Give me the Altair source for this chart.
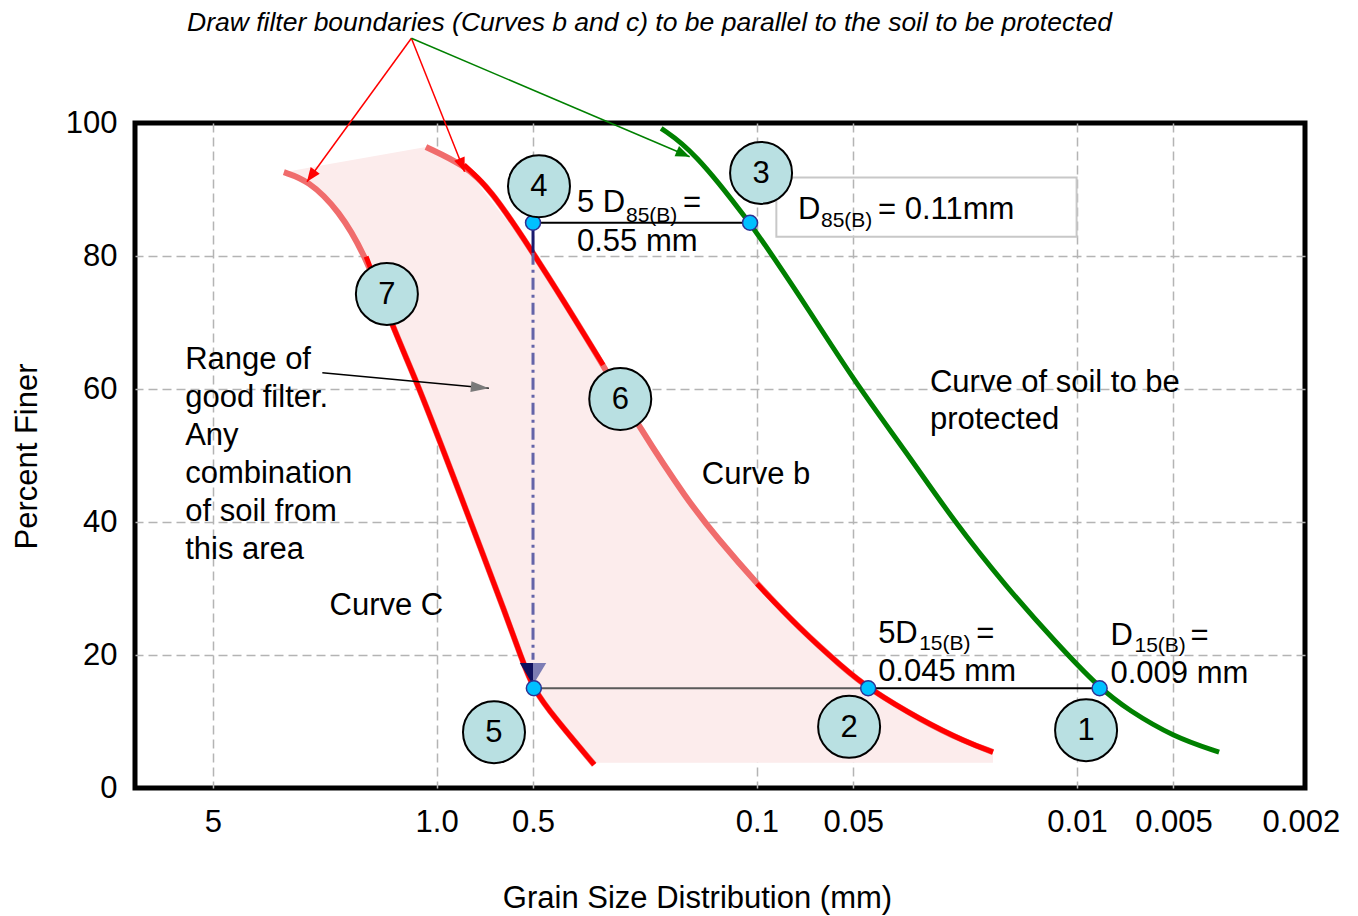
import altair as alt
import pandas as pd

FONT = "Liberation Sans"
RED = "#ff0000"
LIGHT_RED = "#f06c6c"
GREEN = "#008000"

# ---------------- data ----------------
# soil to be protected (green)
soil_size = [0.199, 0.158, 0.105, 0.0890, 0.0697, 0.0487, 0.0340, 0.0244, 0.0166,
             0.0116, 0.0085, 0.0069, 0.0050, 0.0036]
soil_pct = [99.2, 95.9, 85.0, 79.9, 72.3, 60.6, 50.4, 40.3, 30.2,
            21.8, 15.0, 11.7, 7.7, 5.4]

# curve b (fine filter boundary)
b_size = [1.080, 0.821, 0.681, 0.500, 0.403, 0.302, 0.232, 0.165, 0.133,
          0.0999, 0.0733, 0.0538, 0.0449, 0.0307, 0.0222, 0.0183]
b_pct = [96.4, 93.7, 90.2, 80.5, 73.4, 63.6, 54.1, 43.3, 37.6,
         30.7, 23.9, 18.1, 15.0, 10.2, 6.9, 5.4]

# curve C (coarse filter boundary)
c_size = [3.00, 2.52, 2.02, 1.66, 1.37, 1.15, 0.962, 0.711, 0.616,
          0.545, 0.497, 0.430, 0.322]
c_pct = [92.6, 91.4, 86.9, 79.9, 69.3, 60.9, 51.3, 34.7, 26.8,
         19.7, 14.7, 10.7, 3.5]

# shaded range of good filter
band_pct = [96.4, 93.7, 92.6, 90, 85, 80, 70, 60, 50, 40, 30, 20, 15, 10, 5.4, 3.8]
band_coarse = [1.080, 2.25, 3.00, 2.35, 1.91, 1.66, 1.385, 1.13, 0.942, 0.783,
               0.653, 0.547, 0.496, 0.418, 0.349, 0.327]
band_fine = [1.080, 0.821, 0.790, 0.720, 0.596, 0.493, 0.365, 0.273, 0.2035, 0.146,
             0.0968, 0.0596, 0.0449, 0.0305, 0.0183, 0.0183]

# key points (D15, 5D15, D85, 5D85, curve C at 15 %)
key_size = [0.0085, 0.0449, 0.105, 0.500, 0.497]
key_pct = [15, 15, 85, 85, 15]

# numbered badges
badge_label = ["1", "2", "3", "4", "5", "6", "7"]
badge_size = [0.00937, 0.0515, 0.0970, 0.479, 0.662, 0.267, 1.43]
badge_pct = [8.7, 9.2, 92.5, 90.5, 8.4, 58.5, 74.3]

x_ticks = [5, 1, 0.5, 0.1, 0.05, 0.01, 0.005, 0.002]
y_ticks = [0, 20, 40, 60, 80, 100]

# ---------------- scales / axes ----------------
xs = alt.Scale(type="log", domain=[0.001941, 8.75], reverse=True, nice=False)
ys = alt.Scale(domain=[0, 100], nice=False, zero=False)

common_axis = dict(
    grid=True, gridColor="#b4b4b4", gridDash=[9, 5], gridWidth=1.5,
    domain=False, ticks=False, tickSize=0,
    labelFont=FONT, labelFontSize=31, labelColor="black",
    titleFont=FONT, titleFontSize=31, titleFontWeight="normal", titleColor="black",
)
x_axis = alt.Axis(
    values=x_ticks,
    labelExpr="datum.value == 1 ? '1.0' : '' + datum.value",
    title="Grain Size Distribution (mm)",
    gridOpacity={"condition": {"test": "datum.value < 0.0025", "value": 0}, "value": 1},
    labelPadding=19, labelFlush=False, labelOverlap=False,
    titleX=562, titleY=119, titleBaseline="alphabetic", titleAlign="center",
    **common_axis,
)
y_axis = alt.Axis(
    values=y_ticks,
    title="Percent Finer",
    gridOpacity={"condition": {"test": "datum.value == 0 || datum.value == 100", "value": 0}, "value": 1},
    labelPadding=18, labelFlush=False, labelOverlap=False,
    titleAngle=270, titleX=-99, titleY=333, titleBaseline="alphabetic", titleAlign="center",
    **common_axis,
)

X = alt.X("d:Q", scale=xs, axis=x_axis)
Y = alt.Y("pct:Q", scale=ys, axis=y_axis)
ORDER = alt.Order("pct:Q", sort="descending")

layers = []

# shaded band
band_df = pd.DataFrame({"d": band_coarse, "d2": band_fine, "pct": band_pct})
layers.append(
    alt.Chart(band_df).mark_area(color="#fcecec", opacity=1, orient="horizontal")
    .encode(x=X, x2=alt.X2("d2:Q"), y=Y)
)

b_df = pd.DataFrame({"d": b_size, "pct": b_pct})
c_df = pd.DataFrame({"d": c_size, "pct": c_pct})
g_df = pd.DataFrame({"d": soil_size, "pct": soil_pct})

def curve(df, color, width, flt=None):
    ch = alt.Chart(df)
    if flt:
        ch = ch.transform_filter(flt)
    return ch.mark_line(color=color, strokeWidth=width, interpolate="basis").encode(
        x=X, y=Y, order=ORDER)

layers += [
    curve(c_df, LIGHT_RED, 6),
    curve(c_df, RED, 5, "datum.pct <= 79.95"),
    curve(b_df, LIGHT_RED, 6),
    curve(b_df, RED, 5, "datum.pct >= 63.5 && datum.pct <= 93.75"),
    curve(b_df, RED, 5, "datum.pct <= 30.8"),
    curve(g_df, GREEN, 5),
]

# horizontal guide lines
def hrule(d1, d2, p, color, width):
    df = pd.DataFrame({"d": [d1], "d2": [d2], "pct": [p]})
    return alt.Chart(df).mark_rule(color=color, strokeWidth=width).encode(
        x=X, x2=alt.X2("d2:Q"), y=Y)

layers += [
    hrule(key_size[3], key_size[2], 85, "black", 2),
    hrule(key_size[4], key_size[1], 15, "#5a5a5a", 2),
    hrule(key_size[1], key_size[0], 15, "black", 2),
]

# vertical projection line at 0.5 mm
def vrule(d, p1, p2, color, width, dash=None):
    df = pd.DataFrame({"d": [d], "pct": [p1], "pct2": [p2]})
    kw = dict(color=color, strokeWidth=width)
    if dash:
        kw["strokeDash"] = dash
    return alt.Chart(df).mark_rule(**kw).encode(x=X, y=Y, y2=alt.Y2("pct2:Q"))

layers += [
    vrule(0.5, 80.5, 19.3, "#6464a8", 3, [12, 5, 3, 5]),
    vrule(0.5, 85, 80.5, "#1a1a6e", 3),
]

tip_df = pd.DataFrame({"d": [0.5], "pct": [15.5]})
layers += [
    alt.Chart(tip_df).mark_point(shape="M0,0L-0.6,-1L0,-1Z", size=1936, filled=True,
                                 color="#10105e", opacity=1, strokeWidth=0).encode(x=X, y=Y),
    alt.Chart(tip_df).mark_point(shape="M0,0L0,-1L0.6,-1Z", size=1936, filled=True,
                                 color="#7c7cb4", opacity=1, strokeWidth=0).encode(x=X, y=Y),
]

# box around D85 label
box_df = pd.DataFrame({"d": [0.0869], "d2": [0.01003], "pct": [91.8], "pct2": [82.9]})
layers.append(
    alt.Chart(box_df).mark_rect(fillOpacity=0, stroke="#c8c8c8", strokeWidth=2)
    .encode(x=X, x2=alt.X2("d2:Q"), y=Y, y2=alt.Y2("pct2:Q"))
)

# key points
key_df = pd.DataFrame({"d": key_size, "pct": key_pct})
layers.append(
    alt.Chart(key_df).mark_point(shape="circle", size=225, filled=True, fill="#00c0ff",
                                 stroke="#2e3192", strokeWidth=1.5, opacity=1)
    .encode(x=X, y=Y)
)

# numbered badges
badge_df = pd.DataFrame({"d": badge_size, "pct": badge_pct, "label": badge_label})
layers += [
    alt.Chart(badge_df).mark_point(shape="circle", size=3844, filled=True, fill="#b9e0e2",
                                   stroke="black", strokeWidth=2, opacity=1)
    .encode(x=X, y=Y),
    alt.Chart(badge_df).mark_text(font=FONT, fontSize=31, align="center", baseline="middle",
                                  color="black", dy=1)
    .encode(x=X, y=Y, text="label:N"),
]

# arrows
HEAD = "M0,0L-0.4,1L0.4,1Z"
arrows = [
    # from (d, pct) -> to (d, pct), color, head angle
    (1.199, 112.74, 2.541, 91.17, RED, 216.1),
    (1.199, 112.74, 0.8178, 92.68, RED, 158.3),
    (1.199, 112.74, 0.1621, 94.93, GREEN, 113.1),
    (2.275, 62.45, 0.687, 60.1, "black", 95.4),
]
for d1, p1, d2, p2, col, ang in arrows:
    df = pd.DataFrame({"d": [d1], "pct": [p1], "d2": [d2], "pct2": [p2]})
    layers.append(
        alt.Chart(df).mark_rule(color=col, strokeWidth=1.5)
        .encode(x=X, y=Y, x2=alt.X2("d2:Q"), y2=alt.Y2("pct2:Q"))
    )
    hdf = pd.DataFrame({"d": [d2], "pct": [p2]})
    head_col = "#7a7a7a" if col == "black" else col
    head_size = 1296 if col == "black" else 784
    head_shape = "M0,0L-0.3,1L0.3,1Z" if col == "black" else HEAD
    layers.append(
        alt.Chart(hdf).mark_point(shape=head_shape, size=head_size, angle=ang, filled=True,
                                  color=head_col, opacity=1, strokeWidth=0)
        .encode(x=X, y=Y)
    )

# text annotations: text, d, pct, font size, dx, dy
notes = [
    ("5 D", 0.3644, 86.6, 31, 0, 0),
    ("85(B)", 0.3644, 86.6, 21, 49, 10),
    ("=", 0.3644, 86.6, 31, 106, 0),
    ("0.55 mm", 0.3644, 80.75, 31, 0, 0),
    ("D", 0.0744, 85.56, 31, 0, 0),
    ("85(B)", 0.0744, 85.56, 21, 23, 8),
    ("= 0.11mm", 0.0744, 85.56, 31, 80, 0),
    ("Curve of soil to be\nprotected", 0.0288, 59.55, 31, 0, 0),
    ("Curve b", 0.1486, 45.7, 31, 0, 0),
    ("Range of\ngood filter.\nAny\ncombination\nof soil from\nthis area", 6.1, 63.0, 31, 0, 0),
    ("Curve C", 2.16, 26.0, 31, 0, 0),
    ("5D", 0.0418, 21.76, 31, 0, 0),
    ("15(B)", 0.0418, 21.76, 21, 41, 7),
    ("=", 0.0418, 21.76, 31, 98, 0),
    ("0.045 mm", 0.0418, 16.14, 31, 0, 0),
    ("D", 0.00786, 21.5, 31, 0, 0),
    ("15(B)", 0.00786, 21.5, 21, 24, 7),
    ("=", 0.00786, 21.5, 31, 80, 0),
    ("0.009 mm", 0.00786, 15.74, 31, 0, 0),
]
for t, d, p, fs, dx, dy in notes:
    df = pd.DataFrame({"d": [d], "pct": [p], "t": [t]})
    kw = dict(font=FONT, fontSize=fs, align="left", baseline="alphabetic", color="black",
              lineBreak="\n", lineHeight=38 if t.startswith("Range") else 37)
    if dx:
        kw["dx"] = dx
    if dy:
        kw["dy"] = dy
    layers.append(alt.Chart(df).mark_text(**kw).encode(x=X, y=Y, text="t:N"))

# italic heading
head_df = pd.DataFrame({"d": [6.02], "pct": [113.8],
                        "t": ["Draw filter boundaries (Curves b and c) to be parallel to the soil to be protected"]})
layers.append(
    alt.Chart(head_df).mark_text(font=FONT, fontSize=26.5, fontStyle="italic", align="left",
                                 baseline="alphabetic", color="black")
    .encode(x=X, y=Y, text="t:N")
)

chart = (
    alt.layer(*layers)
    .properties(width=1170, height=665,
                autosize=alt.AutoSizeParams(type="none"),
                padding={"left": 127, "top": 115, "right": 45, "bottom": 128},
                background="white")
    .configure_view(stroke="black", strokeWidth=5)
)

chart.save("out.html", embed_options={"renderer": "svg", "actions": False})
